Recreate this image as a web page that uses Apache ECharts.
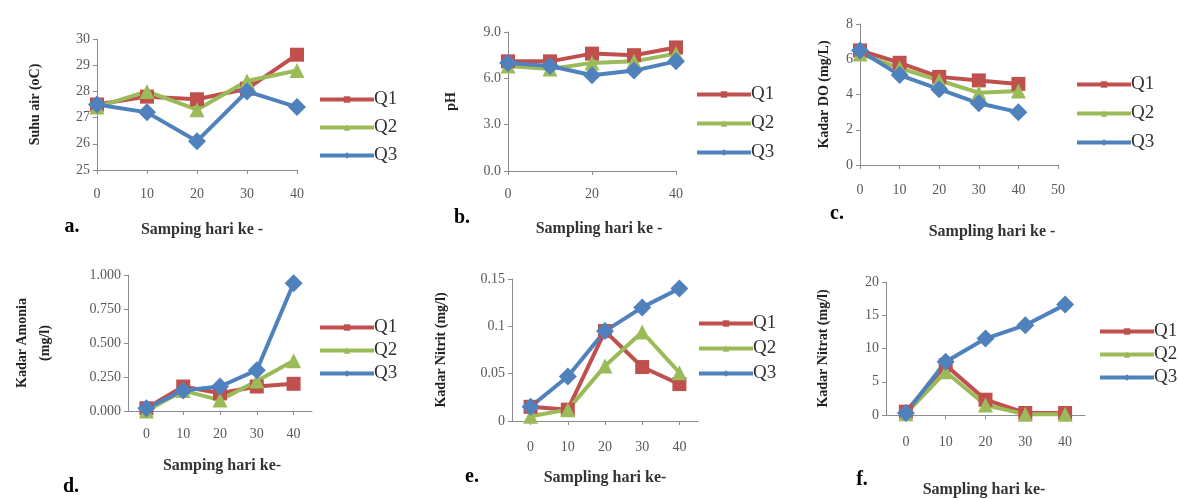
<!DOCTYPE html>
<html>
<head>
<meta charset="utf-8">
<script src="https://cdn.jsdelivr.net/npm/echarts@6/dist/echarts.min.js"></script>
<style>
  html, body { margin: 0; padding: 0; background: #fff; }
  #chart { width: 1178px; height: 500px; }
</style>
</head>
<body>
<div id="chart"></div>
<script>
// sampling days
const days = ['0', '10', '20', '30', '40'];
const dayNums = [0, 10, 20, 30, 40];
const seriesNames = ['Q1', 'Q2', 'Q3'];

// a. suhu air (oC)
const suhuQ1 = [27.5, 27.8, 27.7, 28.1, 29.4];
const suhuQ2 = [27.4, 28.0, 27.3, 28.4, 28.8];
const suhuQ3 = [27.5, 27.2, 26.1, 28.0, 27.4];
// b. pH
const phQ1 = [7.1, 7.1, 7.6, 7.5, 8.0];
const phQ2 = [6.8, 6.6, 7.0, 7.1, 7.6];
const phQ3 = [7.0, 6.8, 6.2, 6.5, 7.1];
// c. DO (mg/L)
const doQ1 = [6.5, 5.8, 5.0, 4.8, 4.6];
const doQ2 = [6.3, 5.5, 4.8, 4.1, 4.2];
const doQ3 = [6.5, 5.1, 4.3, 3.5, 3.0];
// d. amonia (mg/l)
const amoQ1 = [0.02, 0.18, 0.13, 0.18, 0.20];
const amoQ2 = [0.00, 0.15, 0.08, 0.22, 0.37];
const amoQ3 = [0.02, 0.15, 0.18, 0.30, 0.94];
// e. nitrit (mg/l)
const nitQ1 = [0.015, 0.012, 0.095, 0.057, 0.039];
const nitQ2 = [0.005, 0.012, 0.058, 0.094, 0.051];
const nitQ3 = [0.015, 0.047, 0.095, 0.120, 0.140];
// f. nitrat (mg/l)
const natQ1 = [0.5, 7.5, 2.3, 0.3, 0.3];
const natQ2 = [0.2, 6.5, 1.5, 0.1, 0.1];
const natQ3 = [0.3, 8.0, 11.5, 13.5, 16.6];

const colors = ['#C0504D', '#9BBB59', '#4F81BD'];
const symbols = ['rect', 'triangle', 'diamond'];
const symSizes = [14, 15, 18];
const serif = '"Liberation Serif", "DejaVu Serif", serif';

// grid boxes: left, top, width, height
const grids = [
    { left: 97, top: 39, width: 200, height: 131 },
    { left: 508, top: 32, width: 168, height: 139 },
    { left: 860, top: 24, width: 198, height: 141 },
    { left: 128, top: 275, width: 184, height: 136 },
    { left: 512, top: 279, width: 186, height: 142 },
    { left: 886, top: 282, width: 199, height: 133 },
];

const axisLine = { lineStyle: { color: '#8c8c8c', width: 1 } };
const tickStyle = { show: true, length: 4, lineStyle: { color: '#8c8c8c' } };
const labelStyle = { color: '#5a5a5a', fontFamily: serif, fontSize: 14 };
const nameStyle = { color: '#222', fontFamily: serif, fontSize: 14, fontWeight: 'bold' };

const catX = (gi, gap, extra) => Object.assign({
    type: 'category', gridIndex: gi, data: days, boundaryGap: gap,
    axisLine: axisLine, axisTick: Object.assign({ alignWithLabel: true }, tickStyle),
    axisLabel: Object.assign({ margin: 17 }, labelStyle),
}, extra || {});

const valY = (gi, min, max, interval, name, nameGap, fmt, nameExtra) => ({
    type: 'value', gridIndex: gi, min: min, max: max, interval: interval,
    name: name, nameLocation: 'middle', nameGap: nameGap,
    nameTextStyle: Object.assign({}, nameStyle, nameExtra || {}),
    splitLine: { show: false },
    axisLine: Object.assign({ show: true }, axisLine),
    axisTick: tickStyle,
    axisLabel: Object.assign({ formatter: fmt, margin: 7 }, labelStyle),
});

const xAxes = [
    catX(0, false),
    catX(1, false, { axisLabel: Object.assign({ interval: 1, margin: 16 }, labelStyle), axisTick: Object.assign({ interval: 1 }, tickStyle) }),
    {
        type: 'value', gridIndex: 2, min: 0, max: 50, interval: 10,
        splitLine: { show: false }, axisLine: axisLine, axisTick: tickStyle,
        axisLabel: Object.assign({ margin: 18 }, labelStyle),
    },
    catX(3, true, { axisLabel: Object.assign({ margin: 16 }, labelStyle) }),
    catX(4, true, { axisLabel: Object.assign({ margin: 19 }, labelStyle) }),
    catX(5, true, { axisLabel: Object.assign({ margin: 20 }, labelStyle) }),
];

const yAxes = [
    valY(0, 25, 30, 1, 'Suhu air (oC)', 55),
    valY(1, 0, 9, 3, 'pH', 50, v => v.toFixed(1)),
    valY(2, 0, 8, 2, 'Kadar DO (mg/L)', 29),
    valY(3, 0, 1, 0.25, 'Kadar Amonia\n(mg/l)', 71, v => v.toFixed(3), { lineHeight: 23 }),
    valY(4, 0, 0.15, 0.05, 'Kadar Nitrit (mg/l)', 64, v => String(+v.toFixed(2))),
    valY(5, 0, 20, 5, 'Kadar Nitrat (mg/l)', 56),
];

const panelData = [
    [suhuQ1, suhuQ2, suhuQ3],
    [phQ1, phQ2, phQ3],
    [doQ1, doQ2, doQ3],
    [amoQ1, amoQ2, amoQ3],
    [nitQ1, nitQ2, nitQ3],
    [natQ1, natQ2, natQ3],
];

const series = [];
panelData.forEach((set, gi) => {
    set.forEach((vals, k) => {
        series.push({
            name: seriesNames[k], type: 'line', xAxisIndex: gi, yAxisIndex: gi,
            data: gi === 2 ? vals.map((v, i) => [dayNums[i], v]) : vals,
            symbol: symbols[k], symbolSize: symSizes[k],
            itemStyle: { color: colors[k] },
            lineStyle: { color: colors[k], width: 4 },
            animation: false,
        });
    });
});

// legend boxes: left, top, gap
const legendPos = [
    [313, 85, 9], [690, 80, 10], [1070, 70, 10],
    [313, 313, 4], [692, 309, 6], [1093, 317, 4],
];
const legends = legendPos.map(p => ({
    left: p[0], top: p[1], orient: 'vertical', data: seriesNames,
    itemWidth: 54, itemHeight: 8, itemGap: p[2],
    lineStyle: { width: 4 },
    textStyle: { color: '#333', fontFamily: serif, fontSize: 19, padding: [0, 0, 0, -5] },
}));

// panel letters and x axis titles
const letters = [['a.', 72, 227], ['b.', 462, 218], ['c.', 837, 214], ['d.', 71, 487], ['e.', 472, 477], ['f.', 862, 480]];
const xTitles = [
    ['Samping hari ke -', 202, 230], ['Sampling hari ke -', 599, 229], ['Sampling hari ke -', 992, 232],
    ['Samping hari ke-', 222, 466], ['Sampling hari ke-', 605, 478], ['Sampling hari ke-', 984, 490],
];
const graphic = [];
letters.forEach(t => graphic.push({
    type: 'text', x: t[1], y: t[2],
    style: { text: t[0], fill: '#000', font: 'bold 20px ' + serif, align: 'center', verticalAlign: 'middle' },
}));
xTitles.forEach(t => graphic.push({
    type: 'text', x: t[1], y: t[2],
    style: { text: t[0], fill: '#333', font: 'bold 16px ' + serif, align: 'center', verticalAlign: 'middle' },
}));

const chart = echarts.init(document.getElementById('chart'));
chart.setOption({
    backgroundColor: '#fff',
    animation: false,
    grid: grids,
    xAxis: xAxes,
    yAxis: yAxes,
    legend: legends,
    graphic: graphic,
    series: series,
});
</script>
</body>
</html>
